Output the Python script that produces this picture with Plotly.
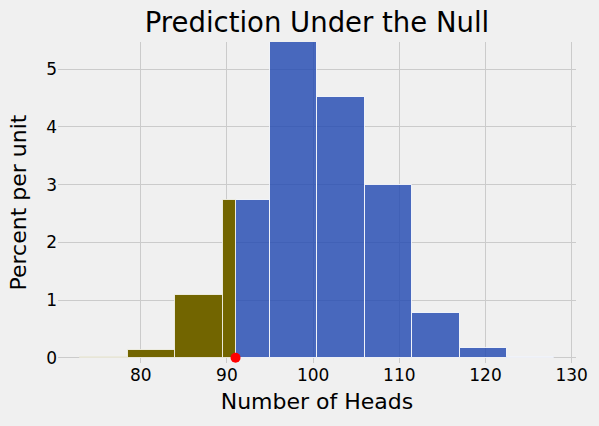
import plotly.graph_objects as go

# Data
bin_edges = [73, 78.5, 84, 89.5, 95, 100.5, 106, 111.5, 117, 122.5, 128]
percent_per_unit = [0.018, 0.133, 1.084, 2.728, 5.76, 4.51, 3.0, 0.773, 0.167, 0.018]
observed_heads = 91
x_ticks = [80, 90, 100, 110, 120, 130]
y_ticks = [0, 1, 2, 3, 4, 5]

BLUE = "rgba(30,70,176,0.8)"
GOLD = "#726500"
BG = "#f0f0f0"
GRID = "#cbcbcb"
FONT = "DejaVu Sans"

# split bins at the observed value: left part gold, right part blue
gold_x, gold_w, gold_y = [], [], []
blue_x, blue_w, blue_y = [], [], []
for lo, hi, h in zip(bin_edges[:-1], bin_edges[1:], percent_per_unit):
    if hi <= observed_heads:
        gold_x.append((lo + hi) / 2); gold_w.append(hi - lo); gold_y.append(h)
    elif lo >= observed_heads:
        blue_x.append((lo + hi) / 2); blue_w.append(hi - lo); blue_y.append(h)
    else:
        gold_x.append((lo + observed_heads) / 2); gold_w.append(observed_heads - lo); gold_y.append(h)
        blue_x.append((observed_heads + hi) / 2); blue_w.append(hi - observed_heads); blue_y.append(h)

fig = go.Figure()
fig.add_trace(go.Bar(x=blue_x, y=blue_y, width=blue_w,
                     marker=dict(color=BLUE, line=dict(color="rgba(255,255,255,0.85)", width=1)),
                     hoverinfo="skip"))
fig.add_trace(go.Bar(x=gold_x, y=gold_y, width=gold_w,
                     marker=dict(color=GOLD, line=dict(color="rgba(255,255,255,0.75)", width=1)),
                     hoverinfo="skip"))
fig.add_trace(go.Scatter(x=[observed_heads], y=[0], mode="markers",
                         marker=dict(color="red", size=10), cliponaxis=False,
                         hoverinfo="skip"))

fig.update_layout(
    width=599, height=426,
    paper_bgcolor=BG, plot_bgcolor=BG,
    barmode="overlay", bargap=0,
    showlegend=False,
    margin=dict(l=58, r=23, t=42, b=63),
    font=dict(family=FONT, color="#000000"),
    title=dict(text="Prediction Under the Null", x=0.5, xanchor="center",
               xref="paper", y=1 - 22 / 426, yref="container", yanchor="middle",
               font=dict(size=27.5, family=FONT, color="#000")),
    xaxis=dict(range=[70.4, 130.5], tickvals=x_ticks, showgrid=True, gridcolor=GRID,
               gridwidth=1, zeroline=False, showline=False, ticks="",
               tickfont=dict(size=17), title=dict(text="Number of Heads", font=dict(size=22),
                                                  standoff=9)),
    yaxis=dict(range=[-0.09, 5.47], tickvals=y_ticks, showgrid=True, gridcolor=GRID,
               gridwidth=1, zeroline=False, showline=False, ticks="",
               tickfont=dict(size=17), title=dict(text="Percent per unit", font=dict(size=22),
                                                  standoff=13)),
)
fig.update_xaxes(automargin=False)
fig.update_yaxes(automargin=False)

fig.write_html("out.html", config={"displayModeBar": False},
               post_script="document.body.style.margin='0';document.body.style.background='#f0f0f0';")
